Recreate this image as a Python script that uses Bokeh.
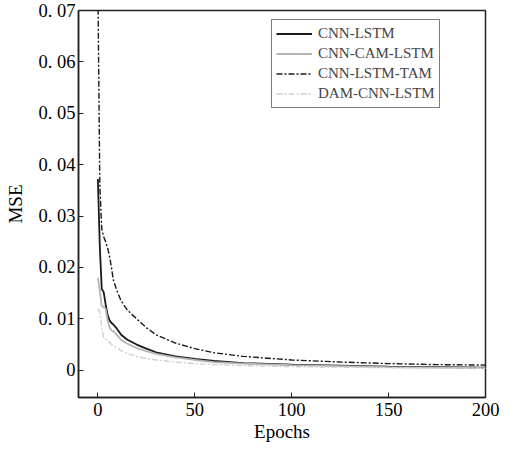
from bokeh.plotting import figure
from bokeh.models import Legend, LegendItem, FixedTicker, Range1d
from bokeh.embed import file_html
from bokeh.resources import INLINE

epochs = [0, 1, 2, 3, 4, 5, 6, 7, 8, 10, 12, 15, 20, 25, 30, 40, 50, 60, 75, 100, 125, 150, 175, 200]
cnn_lstm = [0.0372, 0.0240, 0.0158, 0.0152, 0.0128, 0.0108, 0.0097, 0.0092, 0.0089, 0.0080, 0.0069, 0.0060,
            0.0050, 0.0042, 0.0035, 0.0027, 0.0022, 0.0018, 0.0014, 0.0011, 0.0009, 0.0007, 0.0006, 0.0005]
cnn_cam_lstm = [0.0180, 0.0155, 0.0125, 0.0123, 0.0120, 0.0098, 0.0083, 0.0078, 0.0076, 0.0068, 0.0059, 0.0052,
                0.0043, 0.0037, 0.0032, 0.0025, 0.0020, 0.0016, 0.0013, 0.0010, 0.0008, 0.0006, 0.0005, 0.0004]
cnn_lstm_tam = [0.0750, 0.0360, 0.0275, 0.0260, 0.0250, 0.0238, 0.0222, 0.0200, 0.0175, 0.0153, 0.0135, 0.0118,
                0.0100, 0.0083, 0.0069, 0.0053, 0.0042, 0.0034, 0.0027, 0.0020, 0.0016, 0.0013, 0.0011, 0.0010]
dam_cnn_lstm = [0.0120, 0.0113, 0.0085, 0.0063, 0.0060, 0.0058, 0.0054, 0.0050, 0.0048, 0.0043, 0.0038, 0.0033,
                0.0027, 0.0023, 0.0020, 0.0016, 0.0013, 0.0011, 0.0009, 0.0007, 0.0006, 0.0005, 0.0004, 0.0004]

x_ticks = [0, 50, 100, 150, 200]
y_ticks = [0, 0.01, 0.02, 0.03, 0.04, 0.05, 0.06, 0.07]
y_tick_labels = ["0", "0. 01", "0. 02", "0. 03", "0. 04", "0. 05", "0. 06", "0. 07"]

FONT = "Liberation Serif"

p = figure(width=509, height=446, output_backend="svg", toolbar_location=None,
           x_range=Range1d(-10, 200), y_range=Range1d(-0.0053, 0.07),
           min_border_left=78, min_border_right=24, min_border_top=10, min_border_bottom=49)
p.xgrid.visible = False
p.ygrid.visible = False
p.outline_line_color = "#222222"
p.outline_line_width = 1.5
p.background_fill_color = "white"
p.border_fill_color = "white"

r1 = p.line(epochs, cnn_lstm, line_color="#1a1a1a", line_width=1.8)
r2 = p.line(epochs, cnn_cam_lstm, line_color="#b4b4b4", line_width=1.8)
r3 = p.line(epochs, cnn_lstm_tam, line_color="#1a1a1a", line_width=1.4, line_dash="6 2 2 2")
r4 = p.line(epochs, dam_cnn_lstm, line_color="#cfcfcf", line_width=1.4, line_dash="6 2 2 2")

for ax in (p.xaxis[0], p.yaxis[0]):
    ax.axis_line_color = "#222222"
    ax.axis_line_width = 1.5
    ax.major_tick_in = 5
    ax.major_tick_out = 0
    ax.minor_tick_line_color = None
    ax.major_tick_line_color = "#222222"
    ax.major_label_text_font = FONT
    ax.major_label_text_font_size = "18.5px"
    ax.major_label_text_color = "black"
    ax.axis_label_text_font = FONT
    ax.axis_label_text_font_size = "19px"
    ax.axis_label_text_font_style = "normal"
    ax.axis_label_text_color = "black"

p.xaxis.ticker = FixedTicker(ticks=x_ticks)
p.yaxis.ticker = FixedTicker(ticks=y_ticks)
p.yaxis.major_label_overrides = {t: l for t, l in zip(y_ticks, y_tick_labels)}
p.xaxis.axis_label = "Epochs"
p.yaxis.axis_label = "MSE"
p.xaxis.major_label_standoff = 5
p.xaxis.axis_label_standoff = 2
p.yaxis.major_label_standoff = 3
p.yaxis.axis_label_standoff = 10

legend = Legend(items=[
    LegendItem(label="CNN-LSTM", renderers=[r1]),
    LegendItem(label="CNN-CAM-LSTM", renderers=[r2]),
    LegendItem(label="CNN-LSTM-TAM", renderers=[r3]),
    LegendItem(label="DAM-CNN-LSTM", renderers=[r4]),
], location=(193, 289))
legend.label_text_font = FONT
legend.label_text_font_size = "15px"
legend.label_height = 19
legend.glyph_height = 19
legend.glyph_width = 36
legend.label_standoff = 6
legend.spacing = 1
legend.padding = 4
legend.margin = 0
legend.border_line_color = "black"
legend.border_line_width = 1
legend.background_fill_alpha = 1.0
p.add_layout(legend)

open("out.html", "w").write(file_html(p, INLINE))
